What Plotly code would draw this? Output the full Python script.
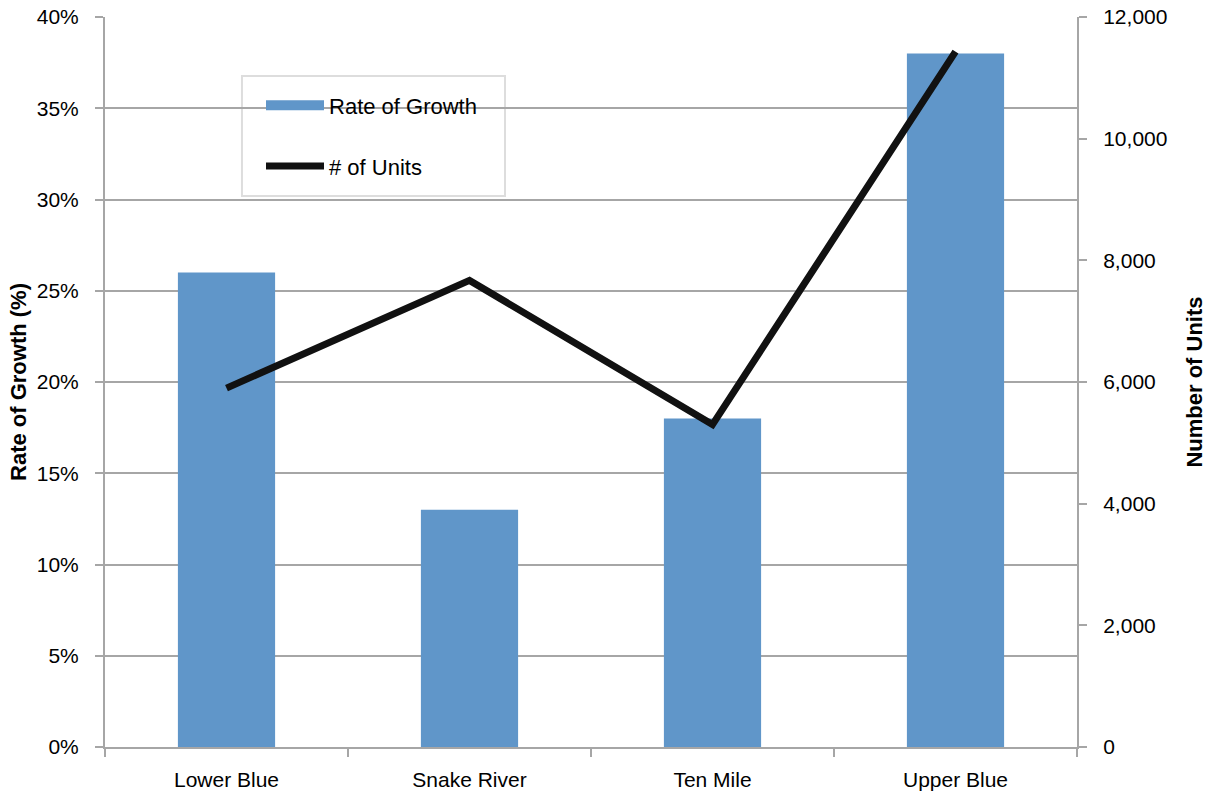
import plotly.graph_objects as go

categories = ["Lower Blue", "Snake River", "Ten Mile", "Upper Blue"]
rate_of_growth = [26, 13, 18, 38]          # percent
num_units = [5900, 7670, 5300, 11430]

BLUE = "#6096C9"
GRID = "#A6A6A6"
FONT = "Liberation Sans, Arial, sans-serif"

fig = go.Figure()
fig.add_trace(go.Bar(
    x=categories, y=rate_of_growth, name="Rate of Growth",
    marker=dict(color=BLUE, line=dict(width=0)), width=0.4,
    showlegend=False, yaxis="y",
))
# legend-only entry to mimic the wide swatch
fig.add_trace(go.Scatter(
    x=[None], y=[None], mode="lines", name="Rate of Growth",
    line=dict(color=BLUE, width=13), legendgroup="a", yaxis="y",
))
fig.add_trace(go.Scatter(
    x=categories, y=num_units, name="# of Units", mode="lines",
    line=dict(color="#111111", width=7), yaxis="y2", legendgroup="b",
))

# legend frame (white box above gridlines, below data)
fig.add_shape(
    type="rect", xref="paper", yref="paper",
    x0=0.1409, x1=0.4115, y0=0.7548, y1=0.9192,
    line=dict(color="#DDDDDD", width=2), fillcolor="white", layer="between",
)

fig.update_layout(
    width=1208, height=796,
    margin=dict(l=105, r=131, t=17, b=49, autoexpand=False),
    paper_bgcolor="white", plot_bgcolor="white",
    font=dict(family=FONT, size=21, color="black"),
    bargap=0.6,
    xaxis=dict(
        showline=True, linecolor=GRID, linewidth=2,
        ticks="outside", tickson="boundaries", ticklen=8, tickcolor=GRID, tickwidth=2,
        showgrid=False, tickfont=dict(size=21), ticklabelstandoff=13, automargin=False,
    ),
    yaxis=dict(
        range=[0, 40], dtick=5, ticksuffix="%",
        showline=True, linecolor=GRID, linewidth=2,
        ticks="outside", ticklen=8, tickcolor=GRID, tickwidth=2,
        showgrid=True, gridcolor=GRID, gridwidth=2, zeroline=False,
        ticklabelstandoff=12, automargin=True,
        title=dict(text="<b>Rate of Growth (%)</b>", font=dict(size=22), standoff=4),
    ),
    yaxis2=dict(
        range=[0, 12000], dtick=2000, tickformat=",d", overlaying="y", side="right",
        showline=True, linecolor=GRID, linewidth=2,
        ticks="outside", ticklen=8, tickcolor=GRID, tickwidth=2,
        showgrid=False, zeroline=False,
        ticklabelstandoff=12, automargin=False,
        title=dict(text="<b>Number of Units</b>", font=dict(size=22), standoff=20),
    ),
    legend=dict(
        x=0.1605, y=0.9075, xanchor="left", yanchor="top",
        bgcolor="rgba(0,0,0,0)", borderwidth=0,
        font=dict(size=22), tracegroupgap=29,
        itemwidth=58,
    ),
)

fig.write_html("out.html")
